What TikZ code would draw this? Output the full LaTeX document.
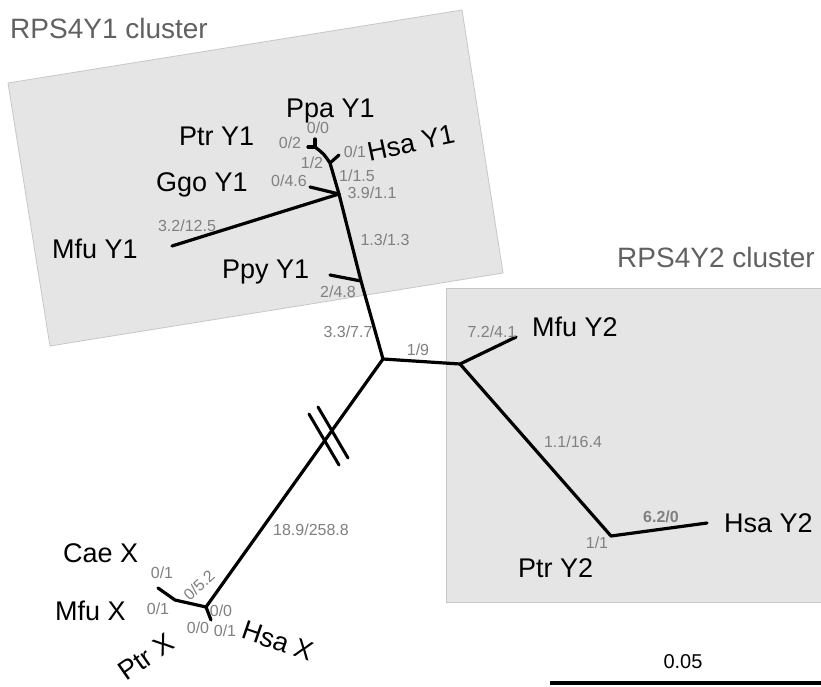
\documentclass[tikz,border=0pt]{standalone}
\usepackage{fontspec}
\setmainfont{Liberation Sans}
\begin{document}
\begin{tikzpicture}[x=1pt,y=-1pt,
  tip/.style={font=\fontsize{27}{30}\selectfont, text=black, inner sep=0pt, anchor=base west},
  tipc/.style={font=\fontsize{27}{30}\selectfont, text=black, inner sep=0pt, anchor=center},
  bl/.style={font=\fontsize{16}{18}\selectfont, text=black!50, inner sep=0pt, anchor=center},
  edge/.style={line width=3.2pt, line cap=round, line join=round},
  cluster/.style={fill=black!10, draw=black!22, line width=0.8pt},
  ctitle/.style={font=\fontsize{28}{32}\selectfont, text=black!62, inner sep=0pt, anchor=base west}]
\useasboundingbox (0,0) rectangle (821,686);
\fill[white] (0,0) rectangle (821,686);
% clusters
\draw[cluster] (8,83) -- (462,10) -- (503,273) -- (50,346) -- cycle;
\draw[cluster] (446,288) rectangle (822,602);
\node[ctitle] (t1) at (10,38) {RPS4Y1 cluster};
\node[ctitle] (t2) at (617,267) {RPS4Y2 cluster};
% tree coordinates
\coordinate (C) at (383,359);
\coordinate (P1) at (361,281);
\coordinate (P2) at (339,194);
\coordinate (P3) at (330,163);
\coordinate (P4) at (315,147);
\coordinate (tPpy) at (330,275);
\coordinate (tMfu1) at (172,246);
\coordinate (tGgo) at (310,187);
\coordinate (tHsa1) at (339,155);
\coordinate (tPtr1) at (308,147);
\coordinate (tPpa) at (315,139);
\coordinate (Y2) at (460,364);
\coordinate (tMfu2) at (516,337);
\coordinate (Y2b) at (611,536);
\coordinate (tHsa2) at (707,523);
\coordinate (X) at (206,607);
\coordinate (Xa) at (175,600);
\coordinate (tMfuX) at (158,588);
\coordinate (tX2) at (211,620);
\coordinate (k1a) at (309,414);
\coordinate (k1b) at (339,465);
\coordinate (k2a) at (318,407);
\coordinate (k2b) at (348,458);
% edges
\draw[edge] (C) -- (P1) -- (P2) .. controls (335,178) .. (P3) .. controls (324,154) .. (P4);
\draw[edge] (P1) -- (tPpy);
\draw[edge] (P2) -- (tMfu1);
\draw[edge] (P2) -- (tGgo);
\draw[edge] (P3) -- (tHsa1);
\draw[edge] (P4) -- (tPtr1);
\draw[edge] (P4) -- (tPpa);
\draw[edge] (C) -- (Y2) -- (tMfu2);
\draw[edge] (Y2) -- (Y2b) -- (tHsa2);
\draw[edge] (C) -- (X);
\draw[edge] (X) -- (Xa) -- (tMfuX);
\draw[edge] (X) -- (tX2);
\draw[line width=3pt, line cap=round] (k1a) -- (k1b);
\draw[line width=3pt, line cap=round] (k2a) -- (k2b);
% tip labels
\node[tip] (nPpa1) at (286,117) {Ppa Y1};
\node[tip] (nPtr1) at (179,145) {Ptr Y1};
\node[tipc, rotate=12] (nHsa1) at (411,143) {Hsa Y1};
\node[tip] (nGgo1) at (156,191) {Ggo Y1};
\node[tip] (nMfu1) at (52,258) {Mfu Y1};
\node[tip] (nPpy1) at (222,278) {Ppy Y1};
\node[tip] (nMfu2) at (532,336) {Mfu Y2};
\node[tip] (nHsa2) at (724,532) {Hsa Y2};
\node[tip] (nPtr2) at (518,577) {Ptr Y2};
\node[tip] (nCae) at (63,562) {Cae X};
\node[tip] (nMfuX) at (55,620) {Mfu X};
\node[tipc, rotate=35] (nPtrX) at (146,657) {Ptr X};
\node[tipc, rotate=-19] (nHsaX) at (278,641) {Hsa X};
% branch labels
\node[bl] (b1) at (318,128) {0/0};
\node[bl] (b2) at (290,143) {0/2};
\node[bl] (b3) at (355,152) {0/1};
\node[bl] (b4) at (312,163) {1/2};
\node[bl] (b5) at (357,176) {1/1.5};
\node[bl] (b6) at (289,181) {0/4.6};
\node[bl] (b7) at (372,193) {3.9/1.1};
\node[bl] (b8) at (187,226) {3.2/12.5};
\node[bl] (b9) at (385,240) {1.3/1.3};
\node[bl] (b10) at (338,292) {2/4.8};
\node[bl] (b11) at (348,332) {3.3/7.7};
\node[bl] (b12) at (418,350) {1/9};
\node[bl] (b13) at (492,332) {7.2/4.1};
\node[bl] (b14) at (573,442) {1.1/16.4};
\node[bl] (b15) at (597,543) {1/1};
\node[bl, font=\fontsize{16}{18}\selectfont\bfseries] (b16) at (661,517) {6.2/0};
\node[bl] (b17) at (311,530) {18.9/258.8};
\node[bl] (b18) at (162,573) {0/1};
\node[bl] (b19) at (158,609) {0/1};
\node[bl, rotate=43] (b20) at (199,585) {0/5.2};
\node[bl] (b21) at (221,611) {0/0};
\node[bl] (b22) at (198,628) {0/0};
\node[bl] (b23) at (225,631) {0/1};
% scale bar
\coordinate (s1) at (550,683);
\coordinate (s2) at (821,683);
\draw[line width=4pt] (s1) -- (s2);
\node[font=\fontsize{20}{24}\selectfont, inner sep=0pt] (sl) at (683,662) {0.05};
\end{tikzpicture}
\end{document}
